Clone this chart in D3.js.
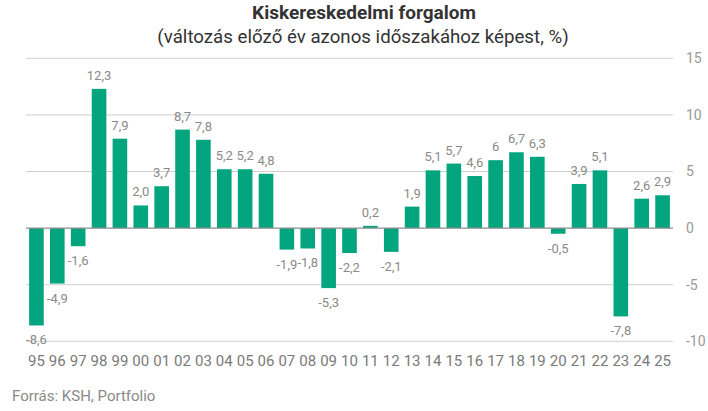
<!DOCTYPE html>
<html>
<head>
<meta charset="utf-8">
<script src="https://cdn.jsdelivr.net/npm/d3@7"></script>
<style>
  body { margin: 0; background: #fff; }
  svg { display: block; font-family: Roboto, "Noto Sans", sans-serif; }
</style>
</head>
<body>
<svg id="chart" width="708" height="411"></svg>
<script>
const years = ["95","96","97","98","99","00","01","02","03","04","05","06","07","08","09","10",
    "11","12","13","14","15","16","17","18","19","20","21","22","23","24","25"];
const values = [-8.6, -4.9, -1.6, 12.3, 7.9, 2.0, 3.7, 8.7, 7.8, 5.2, 5.2, 4.8, -1.9, -1.8, -5.3, -2.2,
    0.2, -2.1, 1.9, 5.1, 5.7, 4.6, 6, 6.7, 6.3, -0.5, 3.9, 5.1, -7.8, 2.6, 2.9];
const labels = ["-8,6","-4,9","-1,6","12,3","7,9","2,0","3,7","8,7","7,8","5,2","5,2","4,8","-1,9","-1,8","-5,3","-2,2",
    "0,2","-2,1","1,9","5,1","5,7","4,6","6","6,7","6,3","-0,5","3,9","5,1","-7,8","2,6","2,9"];
const yTicks = [-10, -5, 0, 5, 10, 15];

const data = years.map((y, i) => ({year: y, value: values[i], label: labels[i]}));

const svg = d3.select('#chart');

const x = d3.scaleBand()
    .domain(years)
    .range([26, 673])
    .paddingInner(0.3)
    .paddingOuter(0.15);

const y = d3.scaleLinear()
    .domain([-10, 15])
    .range([341.3, 58.3]);

// title
svg.append("text")
    .attr("x", 364).attr("y", 18.5)
    .attr("text-anchor", "middle")
    .attr("font-size", 19).attr("font-weight", "bold")
    .attr("fill", "#333")
    .text("Kiskereskedelmi forgalom");

svg.append("text")
    .attr("x", 363).attr("y", 43)
    .attr("text-anchor", "middle")
    .attr("font-size", 18.7)
    .attr("fill", "#333")
    .text("(változás előző év azonos időszakához képest, %)");

// grid
svg.append("g")
    .selectAll("line")
    .data(yTicks.filter(d => d !== 0))
    .join("line")
    .attr("x1", 26).attr("x2", 673)
    .attr("y1", d => y(d)).attr("y2", d => y(d))
    .attr("stroke", "#cfcfcf")
    .attr("stroke-width", 1);

svg.append("g")
    .selectAll("text")
    .data(yTicks)
    .join("text")
    .attr("x", 686)
    .attr("y", d => y(d))
    .attr("dy", "0.35em")
    .attr("font-size", 14)
    .attr("fill", "#999")
    .text(d => d);

// bars
svg.append("g")
    .attr("fill", "#03a57e")
    .selectAll("rect")
    .data(data)
    .join("rect")
    .attr("x", d => x(d.year))
    .attr("width", x.bandwidth())
    .attr("y", d => y(Math.max(0, d.value)))
    .attr("height", d => Math.abs(y(d.value) - y(0)));

// zero line
svg.append("line")
    .attr("x1", 26).attr("x2", 673)
    .attr("y1", y(0)).attr("y2", y(0))
    .attr("stroke", "#8c8c8c")
    .attr("stroke-width", 1.3);

// value labels
svg.append("g")
    .selectAll("text")
    .data(data)
    .join("text")
    .attr("x", d => x(d.year) + x.bandwidth() / 2)
    .attr("y", d => d.value >= 0 ? y(d.value) - 9 : y(d.value) + 19)
    .attr("text-anchor", "middle")
    .attr("font-size", 13)
    .attr("fill", "#8a8a8a")
    .text(d => d.label);

// x labels
svg.append("g")
    .selectAll("text")
    .data(years)
    .join("text")
    .attr("x", d => x(d) + x.bandwidth() / 2)
    .attr("y", 366)
    .attr("text-anchor", "middle")
    .attr("font-size", 15)
    .attr("fill", "#7a7a7a")
    .text(d => d);

// source
svg.append("text")
    .attr("x", 12).attr("y", 401)
    .attr("font-size", 15)
    .attr("fill", "#8a8a8a")
    .text("Forrás: KSH, Portfolio");
</script>
</body>
</html>
